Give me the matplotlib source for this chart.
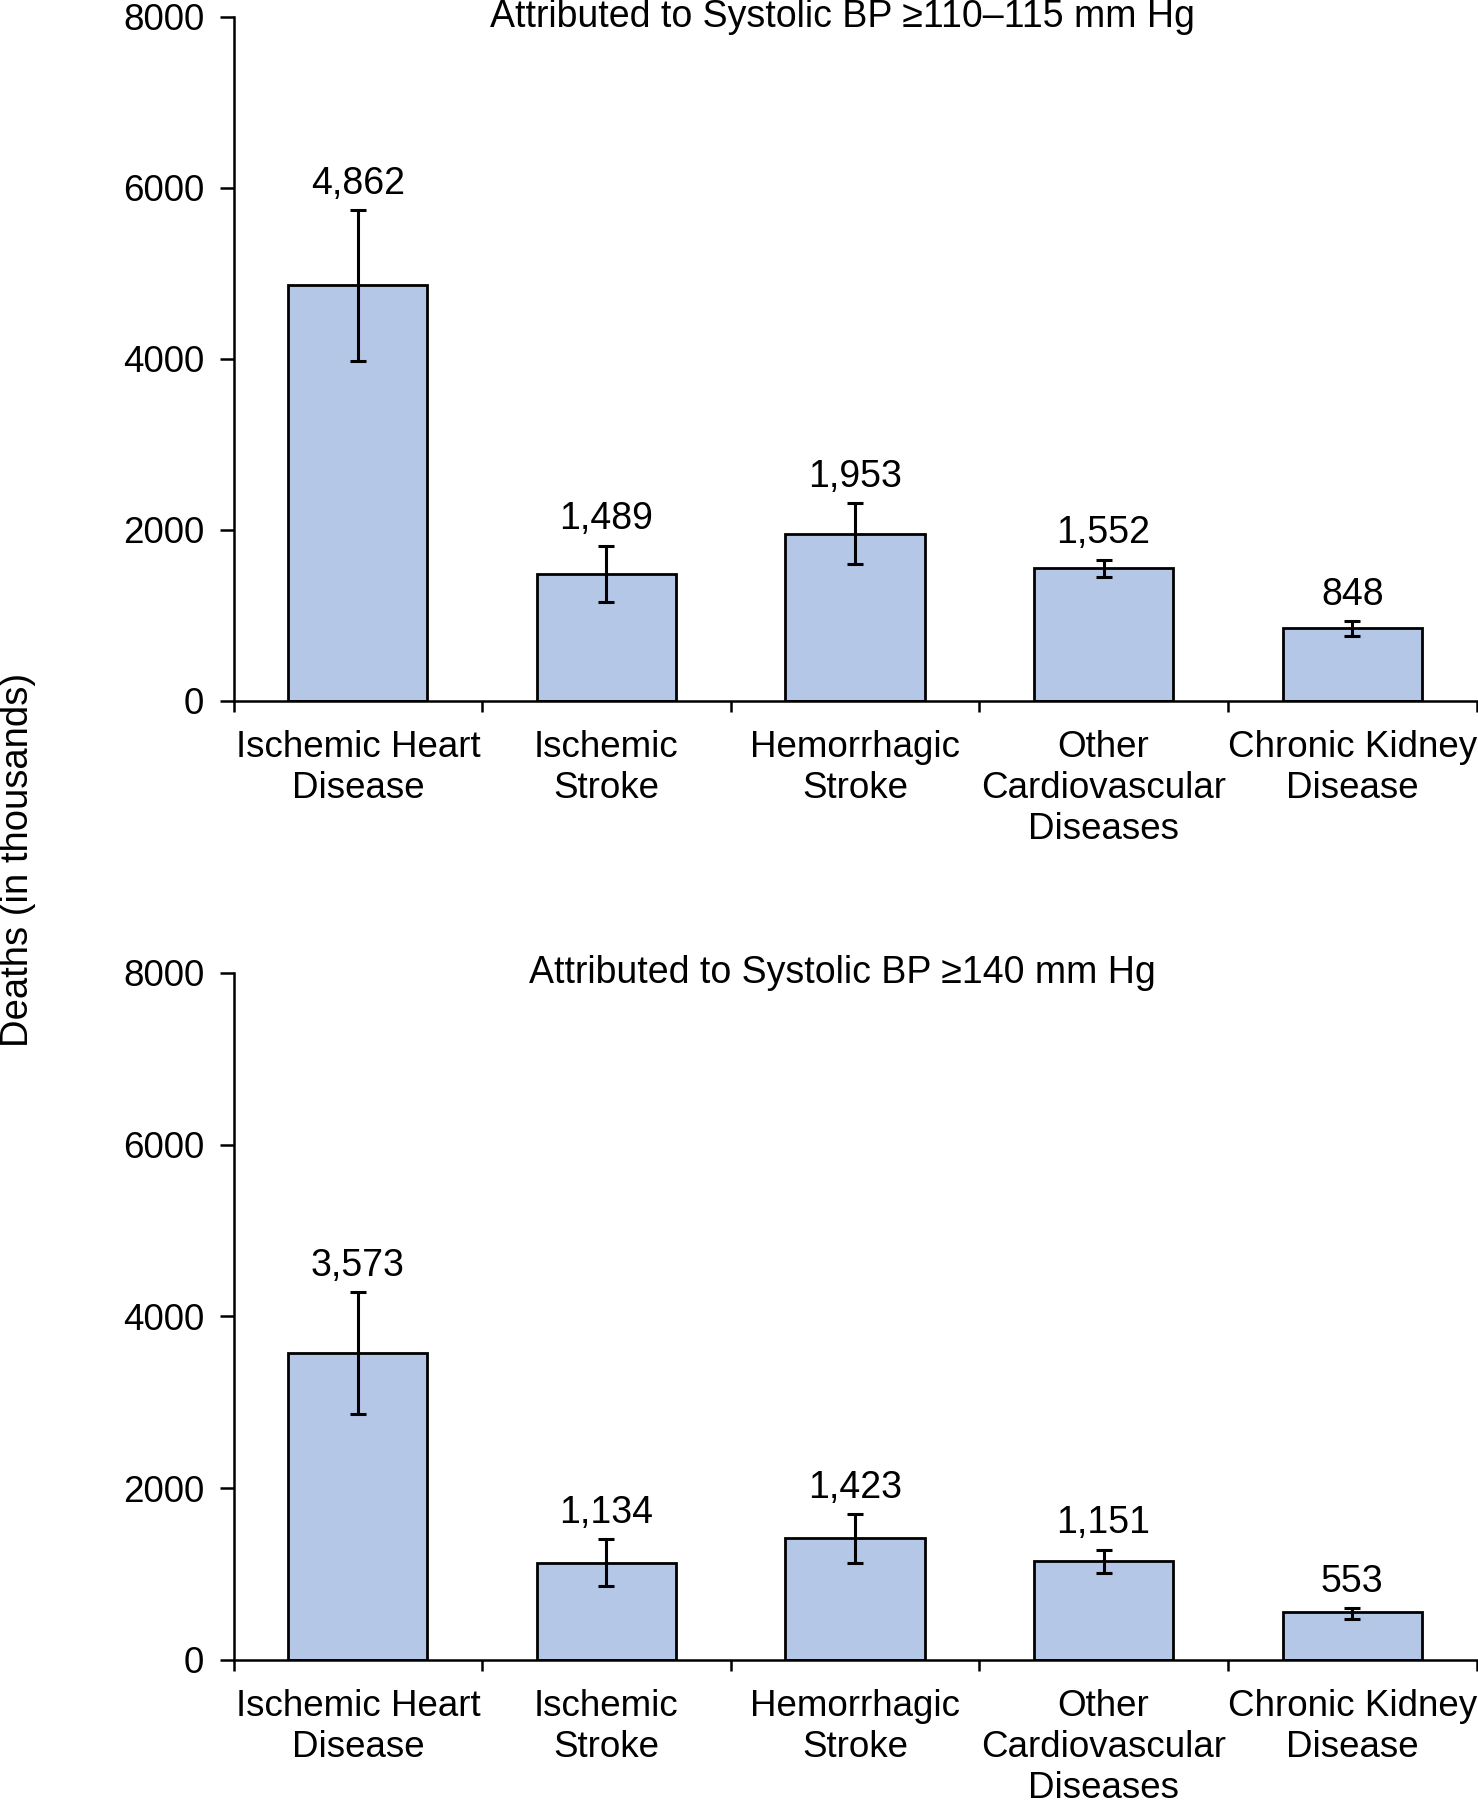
import matplotlib
matplotlib.use('Agg')
import matplotlib.pyplot as plt
import numpy as np

plt.rcParams['font.family'] = ['Liberation Sans', 'DejaVu Sans']

# Data (deaths in thousands)
categories = ['Ischemic Heart\nDisease', 'Ischemic\nStroke', 'Hemorrhagic\nStroke',
              'Other\nCardiovascular\nDiseases', 'Chronic Kidney\nDisease']

titles = ['Attributed to Systolic BP \u2265110\u2013115 mm Hg',
          'Attributed to Systolic BP \u2265140 mm Hg']

deaths_110 = [4862, 1489, 1953, 1552, 848]
lower_110 = [3980, 1159, 1599, 1444, 763]
upper_110 = [5737, 1816, 2315, 1654, 934]

deaths_140 = [3573, 1134, 1423, 1151, 553]
lower_140 = [2869, 864, 1131, 1010, 480]
upper_140 = [4285, 1403, 1700, 1283, 600]

yticks = [0, 2000, 4000, 6000, 8000]

bar_color = '#B4C7E7'
fs = 26.5

fig = plt.figure(figsize=(14.78, 18), dpi=100)
ax1 = fig.add_axes([0.158, 0.6106, 0.841, 0.380])
ax2 = fig.add_axes([0.158, 0.0778, 0.841, 0.3817])

panels = [(ax1, deaths_110, lower_110, upper_110, titles[0]),
          (ax2, deaths_140, lower_140, upper_140, titles[1])]

x = np.arange(len(categories))
for ax, vals, lo, hi, title in panels:
    vals = np.array(vals)
    err = [vals - np.array(lo), np.array(hi) - vals]
    ax.bar(x, vals, width=0.56, color=bar_color, edgecolor='black', linewidth=2.0, zorder=2)
    ax.errorbar(x, vals, yerr=err, fmt='none', ecolor='black', elinewidth=2.2,
                capsize=6, capthick=2.2, zorder=3)
    for xi, v, h in zip(x, vals, hi):
        ax.annotate(f'{v:,}', (xi, h), xytext=(0, 19), textcoords='offset points',
                    ha='center', va='center', fontsize=27)

    ax.set_xlim(-0.5, len(categories) - 0.5)
    ax.set_ylim(0, 8000)
    ax.set_yticks(yticks)
    ax.set_yticklabels([str(t) for t in yticks], fontsize=fs)
    ax.set_xticks(x)
    ax.set_xticklabels(categories, fontsize=fs, linespacing=1.22)
    ax.set_xticks(np.arange(len(categories) + 1) - 0.5, minor=True)
    ax.tick_params(axis='x', which='major', length=0, pad=21)
    ax.tick_params(axis='x', which='minor', length=8, width=1.8, direction='out')
    ax.tick_params(axis='y', length=10, width=1.8, pad=11)

    for side in ['top', 'right']:
        ax.spines[side].set_visible(False)
    for side in ['left', 'bottom']:
        ax.spines[side].set_linewidth(1.8)

    ax.text(0.49, 8000, title, transform=ax.get_yaxis_transform(),
            ha='center', va='center', fontsize=27)

fig.text(0.012, 0.522, 'Deaths (in thousands)', rotation=90, ha='center', va='center', fontsize=27.5)

plt.savefig('out.png', dpi=100)
